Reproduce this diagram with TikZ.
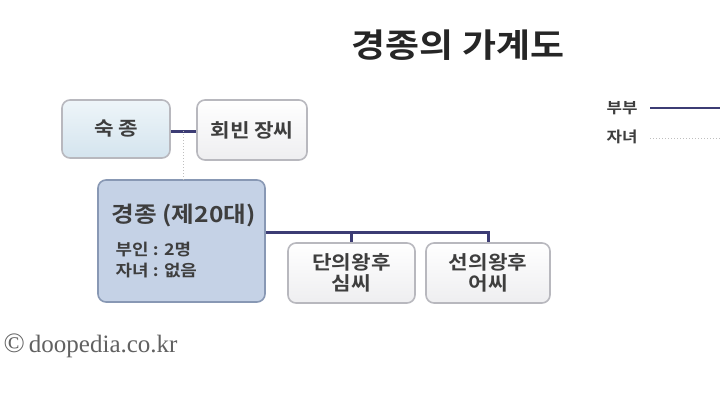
\documentclass[tikz,border=0pt]{standalone}
\usepackage{fontspec}
\setmainfont{Liberation Serif}
\newfontfamily\krb[FakeStretch=1.12]{Noto Sans CJK KR Bold}
\usetikzlibrary{calc}
\definecolor{txt}{HTML}{3E3E3E}
\definecolor{navy}{HTML}{3C3C74}
\definecolor{bord}{HTML}{B8B8BE}
\tikzset{
  box/.style={draw=bord, line width=1.6pt, rounded corners=8pt, text=txt, align=center, font=\krb\fontsize{19}{22}\selectfont},
  plainbox/.style={box, top color=white, bottom color={rgb,255:red,238;green,238;blue,240}},
  sjbox/.style={box, top color={rgb,255:red,238;green,245;blue,249}, bottom color={rgb,255:red,212;green,228;blue,238}},
  gjbox/.style={box, draw={rgb,255:red,136;green,152;blue,180}, fill={rgb,255:red,197;green,210;blue,230}},
  marr/.style={draw=navy, line width=3pt},
  child/.style={draw=gray!50, line width=1pt, dotted},
}
\begin{document}
\begin{tikzpicture}[x=1pt,y=-1pt]
\useasboundingbox[fill=white] (0,0) rectangle (720,405);
\node[font=\krb\fontsize{33}{38}\selectfont, text=black!85] (title) at (458,45) {경종의 가계도};

\node[sjbox, minimum width=108pt, minimum height=58pt] (sj) at (116,129) {숙 종};
\node[plainbox, minimum width=110pt, minimum height=60pt] (hb) at (252,130) {회빈 장씨};
\node[gjbox, minimum width=167pt, minimum height=122pt] (gj) at (181.5,241) {};
\node[anchor=west, text=txt, font=\krb\fontsize{22}{26}\selectfont] (gjt) at ([xshift=11pt,yshift=-36pt]gj.north west) {경종 (제20대)};
\node[anchor=west, text=txt, align=left, font=\krb\fontsize{16}{21.5}\selectfont] (gjd) at ([xshift=15pt,yshift=-81pt]gj.north west) {부인 : 2명\\자녀 : 없음};
\node[plainbox, minimum width=127pt, minimum height=60pt, font=\krb\fontsize{19}{21}\selectfont] (dy) at (351.5,273) {단의왕후\\심씨};
\node[plainbox, minimum width=124pt, minimum height=60pt, font=\krb\fontsize{19}{21}\selectfont] (sy) at (488,273) {선의왕후\\어씨};

% connectors
\draw[marr] (sj.east |- 0,131) -- (hb.west |- 0,131);
\coordinate (m) at ($(sj.east |- 0,131)!0.5!(hb.west |- 0,131)$);
\draw[child] (m) -- (m |- gj.north);
\coordinate (gl) at ([yshift=9pt]gj.east);
\draw[marr] (gl) -| (sy.north);
\draw[marr] (gl -| dy.north) -- (dy.north);

% legend
\node[text=txt, font=\krb\fontsize{15}{18}\selectfont, anchor=east] (lb) at (641,108) {부부};
\node[text=txt, font=\krb\fontsize{15}{18}\selectfont, anchor=east] (lc) at (641,137) {자녀};
\coordinate (lbe) at (720,108);
\coordinate (lce) at (720,138);
\draw[marr, line width=2.6pt] ([xshift=9pt]lb.east) -- (lbe);
\draw[child, line width=0.8pt] ([xshift=9pt,yshift=-1pt]lc.east) -- (lce);

\node[anchor=west, text=black!62, font=\fontsize{25}{28}\selectfont] (cr) at (0,346) {{\fontsize{28}{28}\selectfont ©}\,doopedia.co.kr};
\end{tikzpicture}
\end{document}
